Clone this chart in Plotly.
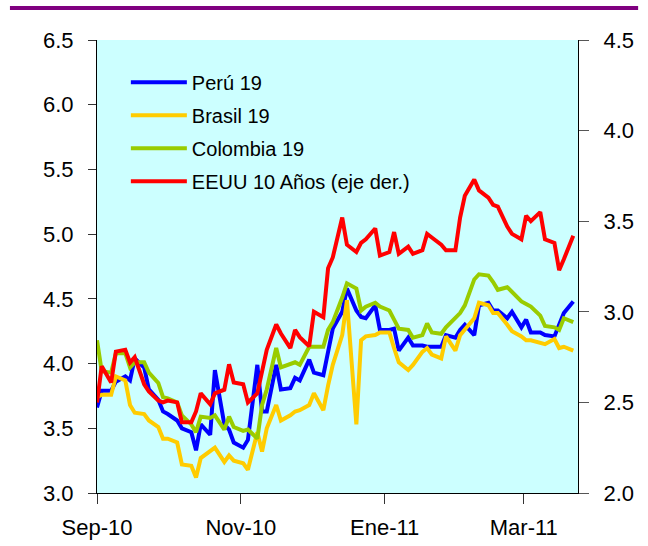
import pandas as pd
import plotly.graph_objects as go

# Fechas: cada dos días hábiles, Sep-2010 a Mar-2011
fechas = pd.bdate_range("2010-09-01", "2011-03-22")[::2]

# Rendimientos (%) - eje izquierdo
peru_19 = [3.66, 3.79, 3.79, 3.86, 3.90, 3.87, 4.04, 3.97, 3.80, 3.72,
           3.63, 3.61, 3.56, 3.50, 3.47, 3.33, 3.53, 3.45, 3.95, 3.53,
           3.49, 3.39, 3.35, 3.41, 3.99, 3.63, 3.63, 3.99, 3.80, 3.81,
           3.89, 3.87, 4.03, 3.93, 3.91, 4.10, 4.27, 4.40, 4.58, 4.41,
           4.36, 4.35, 4.45, 4.26, 4.26, 4.27, 4.10, 4.20, 4.14, 4.14,
           4.13, 4.13, 4.13, 4.22, 4.20, 4.26, 4.30, 4.22, 4.45, 4.47,
           4.41, 4.41, 4.35, 4.40, 4.28, 4.34, 4.24, 4.24, 4.22, 4.21,
           4.30, 4.39, 4.48]

brasil_19 = [3.74, 3.76, 3.76, 3.90, 3.87, 3.68, 3.62, 3.61, 3.56, 3.51,
             3.42, 3.42, 3.39, 3.22, 3.21, 3.12, 3.27, 3.33, 3.35, 3.24,
             3.29, 3.25, 3.23, 3.18, 3.47, 3.32, 3.50, 3.68, 3.56, 3.60,
             3.63, 3.64, 3.68, 3.77, 3.64, 3.83, 3.99, 4.22, 4.49, 3.53,
             4.18, 4.21, 4.22, 4.24, 4.24, 4.12, 4.01, 3.95, 3.99, 4.09,
             4.12, 4.07, 4.04, 4.21, 4.10, 4.22, 4.26, 4.35, 4.47, 4.45,
             4.39, 4.39, 4.30, 4.25, 4.21, 4.18, 4.18, 4.16, 4.15, 4.19,
             4.12, 4.13, 4.10]

colombia_19 = [4.18, 3.94, 3.93, 4.08, 4.08, 3.97, 4.01, 4.01, 3.93, 3.85,
               3.74, 3.73, 3.70, 3.60, 3.53, 3.47, 3.59, 3.58, 3.60, 3.49,
               3.59, 3.51, 3.48, 3.49, 3.42, 3.68, 3.80, 4.12, 3.97, 4.00,
               4.01, 3.99, 4.13, 4.13, 4.13, 4.26, 4.32, 4.51, 4.62, 4.58,
               4.41, 4.44, 4.47, 4.44, 4.41, 4.34, 4.27, 4.26, 4.20, 4.22,
               4.31, 4.24, 4.23, 4.28, 4.35, 4.39, 4.45, 4.65, 4.69, 4.68,
               4.63, 4.57, 4.59, 4.55, 4.48, 4.46, 4.44, 4.37, 4.29, 4.28,
               4.26, 4.35, 4.32]

# Rendimiento (%) - eje derecho
eeuu_10 = [2.50, 2.70, 2.61, 2.78, 2.79, 2.72, 2.75, 2.60, 2.56, 2.51,
           2.50, 2.51, 2.50, 2.39, 2.39, 2.45, 2.55, 2.49, 2.55, 2.57,
           2.71, 2.61, 2.60, 2.50, 2.55, 2.68, 2.79, 2.93, 2.88, 2.80,
           2.90, 2.86, 2.81, 3.00, 2.97, 3.24, 3.30, 3.52, 3.37, 3.33,
           3.38, 3.40, 3.46, 3.31, 3.33, 3.44, 3.32, 3.36, 3.32, 3.34,
           3.43, 3.41, 3.37, 3.34, 3.34, 3.52, 3.64, 3.73, 3.67, 3.63,
           3.59, 3.58, 3.47, 3.43, 3.40, 3.53, 3.50, 3.55, 3.40, 3.38,
           3.23, 3.29, 3.42]

tick_fechas = ["2010-09-01", "2010-11-01", "2011-01-01", "2011-03-01"]
tick_textos = ["Sep-10", "Nov-10", "Ene-11", "Mar-11"]

FONT = "Liberation Sans, Arial, sans-serif"

fig = go.Figure()
series = [
    ("Perú 19", peru_19, "#0000FF", "y"),
    ("Brasil 19", brasil_19, "#FFCC00", "y"),
    ("Colombia 19", colombia_19, "#99CC00", "y"),
    ("EEUU 10 Años (eje der.)", eeuu_10, "#FF0000", "y2"),
]
for i, (nombre, valores, color, eje) in enumerate(series):
    fig.add_trace(go.Scatter(
        x=fechas, y=valores, name=nombre, mode="lines", yaxis=eje,
        legendgroup=str(i),
        line=dict(color=color, width=4),
    ))

fig.update_layout(
    width=648, height=546,
    margin=dict(l=97, r=70, t=40, b=53, autoexpand=False),
    paper_bgcolor="white",
    plot_bgcolor="#CCFFFF",
    font=dict(family=FONT, size=22, color="black"),
    showlegend=True,
    legend=dict(
        x=0.06, y=0.95, xanchor="left", yanchor="top",
        bgcolor="rgba(0,0,0,0)", borderwidth=0,
        font=dict(family=FONT, size=20, color="black"),
        tracegroupgap=4, itemwidth=56,
    ),
    xaxis=dict(
        type="date", automargin=False,
        range=["2010-09-01", "2011-03-24"],
        tickvals=tick_fechas, ticktext=tick_textos,
        ticks="outside", ticklen=10, tickcolor="#333333",
        showline=True, linecolor="black", linewidth=1,
        showgrid=False, zeroline=False,
        ticklabelstandoff=5,
    ),
    yaxis=dict(
        automargin=False,
        range=[3.0, 6.5], dtick=0.5, tickformat=".1f",
        ticks="outside", ticklen=8, tickcolor="#333333",
        showline=True, linecolor="black", linewidth=1,
        showgrid=False, zeroline=False,
        ticklabelstandoff=10,
    ),
    yaxis2=dict(
        automargin=False,
        range=[2.0, 4.5], dtick=0.5, tickformat=".1f",
        overlaying="y", side="right", anchor="x",
        ticks="outside", ticklen=10, tickcolor="#555555",
        showline=True, linecolor="black", linewidth=1,
        showgrid=False, zeroline=False,
        ticklabelstandoff=10,
    ),
    yaxis3=dict(
        automargin=False,
        range=[2.0, 4.5], dtick=0.5,
        overlaying="y", side="right", anchor="x",
        ticks="inside", ticklen=6, tickcolor="#555555",
        showticklabels=False, showline=False,
        showgrid=False, zeroline=False,
    ),
)

# Franja superior
fig.add_shape(type="line", xref="paper", yref="paper",
              x0=-0.181, x1=1.125, y0=1.0707, y1=1.0707,
              line=dict(color="#800080", width=4))

fig.write_html("out.html")
